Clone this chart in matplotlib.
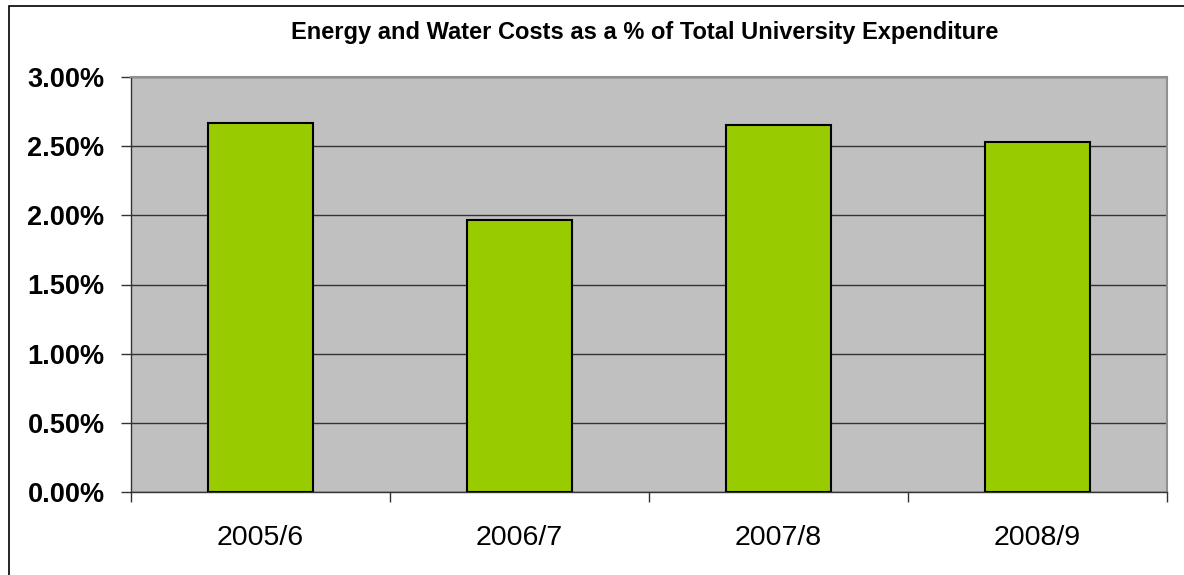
import matplotlib.pyplot as plt
import matplotlib.ticker as mticker
from matplotlib.patches import Rectangle

years = ["2005/6", "2006/7", "2007/8", "2008/9"]
cost_share = [2.665, 1.966, 2.655, 2.528]

plt.rcParams['font.family'] = ['Liberation Sans', 'DejaVu Sans']

fig = plt.figure(figsize=(11.84, 5.75), dpi=100)
ax = fig.add_axes([131 / 1184, 1 - 492 / 575, (1167 - 131) / 1184, (492 - 77) / 575])

# outer chart frame (only left/top edges visible in the reference)
fig.patches.append(Rectangle((9 / 1184, -0.1), 1.2, 1 - 6 / 575 + 0.1,
                             transform=fig.transFigure, fill=False,
                             edgecolor='black', linewidth=1.2))

ax.set_facecolor('#C0C0C0')
x = list(range(len(years)))
ax.bar(x, cost_share, 0.405, color='#99CC00', edgecolor='black', linewidth=1.5, zorder=3)

ax.set_xlim(-0.5, len(years) - 0.5)
ax.set_ylim(0, 3.0)
ax.yaxis.set_major_locator(mticker.MultipleLocator(0.5))
ax.yaxis.set_major_formatter(mticker.FuncFormatter(lambda v, p: f"{v:.2f}%"))
ax.grid(axis='y', color='#333333', linewidth=1.0, zorder=1)
ax.set_axisbelow(True)

ax.set_xticks(x)
ax.set_xticklabels(years)
ax.set_xticks([i + 0.5 for i in range(-1, len(years))], minor=True)
ax.tick_params(axis='x', which='major', length=0, pad=24, labelsize=20.5)
ax.tick_params(axis='x', which='minor', length=7, width=1, color='#333333')
ax.tick_params(axis='y', length=7, width=1, color='#333333', pad=12, labelsize=19.5)
for lbl in ax.get_yticklabels():
    lbl.set_fontweight('bold')

for side in ['left', 'bottom']:
    ax.spines[side].set_color('#333333')
    ax.spines[side].set_linewidth(1.0)
for side in ['top', 'right']:
    ax.spines[side].set_color('#909090')
    ax.spines[side].set_linewidth(1.5)

fig.text(645 / 1184, 1 - 32 / 575, "Energy and Water Costs as a % of Total University Expenditure",
         ha='center', va='center', fontsize=17, fontweight='bold')

plt.savefig('out.png', dpi=100)
